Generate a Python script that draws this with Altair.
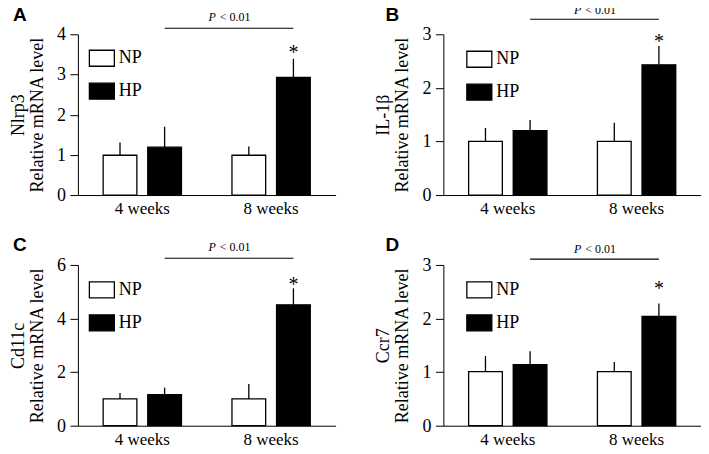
import altair as alt
import pandas as pd

# ---------------- data ----------------
weeks = ["4 weeks", "8 weeks"]
groups = ["NP", "HP"]
letters = ["A", "B", "C", "D"]
genes = ["Nlrp3", "IL-1β", "Cd11c", "Ccr7"]
y_max = [4, 3, 6, 3]
y_ticks = [[0, 1, 2, 3, 4], [0, 1, 2, 3], [0, 2, 4, 6], [0, 1, 2, 3]]

# order inside each list: 4w NP, 4w HP, 8w NP, 8w HP
means = [
    [0.99, 1.19, 0.99, 2.93],
    [1.00, 1.20, 1.00, 2.43],
    [1.00, 1.16, 1.00, 4.51],
    [1.01, 1.14, 1.01, 2.04],
]
upper = [
    [1.31, 1.70, 1.21, 3.39],
    [1.25, 1.40, 1.35, 2.78],
    [1.22, 1.42, 1.56, 5.13],
    [1.30, 1.39, 1.19, 2.28],
]
star_y = [3.61, 2.91, 5.38, 2.60]
p_line_y = [4.15, 3.28, 6.25, 3.11]
p_label = "P"
p_rest = "< 0.01"

SERIF = "Liberation Serif"
SANS = "Liberation Sans"

legend_xy = [(15, 15), (27, 16), (15, 16), (27, 16)]
letter_dx = [-65, -58, -65, -58]
letter_dy = [-13, -13, -14, -14]
p_dy = [-7, -5, -7, -6]

W, H = 258, 161


def panel(i):
    df = pd.DataFrame({
        "week": [w for w in weeks for _ in groups],
        "group": [g for _ in weeks for g in groups],
        "mean": means[i],
        "upper": upper[i],
    })
    star_df = pd.DataFrame({"week": [weeks[1]], "group": ["HP"], "v": [star_y[i]]})
    line_df = pd.DataFrame({"week": weeks, "group": ["HP", "HP"], "v": [p_line_y[i]] * 2})
    txt_df = pd.DataFrame({"week": [weeks[0]], "group": ["HP"], "v": [p_line_y[i]]})
    let_df = pd.DataFrame({"t": [letters[i]]})
    ytick_df = pd.DataFrame({"v": y_ticks[i], "lab": [str(t) for t in y_ticks[i]]})
    xlab_df = pd.DataFrame({"week": weeks})

    xscale = alt.Scale(domain=weeks, paddingInner=0.392, paddingOuter=0.196)
    oscale = alt.Scale(domain=groups, paddingInner=0.244)
    yscale = alt.Scale(domain=[0, y_max[i]], nice=False)
    ytitle = [genes[i], "Relative mRNA level"]
    xaxis = alt.Axis(labels=False)
    yaxis = alt.Axis(values=y_ticks[i], labels=False)

    def X():
        return alt.X("week:N", scale=xscale, title=None, axis=xaxis)

    def XO():
        return alt.XOffset("group:N", scale=oscale)

    def Y(f):
        return alt.Y(f + ":Q", scale=yscale, title=ytitle, axis=yaxis)

    lx, ly = legend_xy[i]
    bars = alt.Chart(df).mark_bar(stroke="black", strokeWidth=1.3).encode(
        x=X(), xOffset=XO(), y=Y("mean"),
        fill=alt.Fill("group:N", scale=alt.Scale(domain=groups, range=["white", "black"]),
                      legend=alt.Legend(title=None, orient="none", legendX=lx, legendY=ly)),
    )
    err = alt.Chart(df).mark_rule(color="black", strokeWidth=1.3).encode(
        x=X(), xOffset=XO(), y=Y("mean"), y2="upper:Q")
    star = alt.Chart(star_df).mark_text(text="*", font=SERIF, fontSize=20,
                                        baseline="middle", dy=3, color="black").encode(
        x=X(), xOffset=XO(), y=Y("v"))
    pline = alt.Chart(line_df).mark_line(color="black", strokeWidth=1.2).encode(
        x=X(), xOffset=XO(), y=Y("v"))
    pt1 = alt.Chart(txt_df).mark_text(text=p_label, font=SERIF, fontSize=12, fontStyle="italic",
                                      align="left", baseline="alphabetic", dx=44, dy=p_dy[i],
                                      color="black").encode(x=X(), xOffset=XO(), y=Y("v"))
    pt2 = alt.Chart(txt_df).mark_text(text=p_rest, font=SERIF, fontSize=12,
                                      align="right", baseline="alphabetic", dx=86, dy=p_dy[i],
                                      color="black").encode(x=X(), xOffset=XO(), y=Y("v"))
    letter = alt.Chart(let_df).mark_text(font=SANS, fontSize=19, fontWeight="bold",
                                         align="left", baseline="alphabetic",
                                         color="black").encode(
        text="t:N", x=alt.value(letter_dx[i]), y=alt.value(letter_dy[i]))
    ylabs = alt.Chart(ytick_df).mark_text(font=SERIF, fontSize=18, fontWeight="normal",
                                          align="right", baseline="middle", dy=1,
                                          color="black").encode(
        text="lab:N", x=alt.value(-12), y=Y("v"))
    xlabs = alt.Chart(xlab_df).mark_text(font=SERIF, fontSize=17, fontWeight="normal",
                                         align="center", baseline="alphabetic",
                                         color="black").encode(
        text="week:N", x=X(), y=alt.value(H + 19))
    return alt.layer(err, bars, star, pline, pt1, pt2, letter, ylabs, xlabs).properties(
        width=W, height=H)


row1 = alt.hconcat(panel(0), panel(1), spacing=39).resolve_scale(fill="independent")
row2 = alt.hconcat(panel(2), panel(3), spacing=39).resolve_scale(fill="independent")
chart = alt.vconcat(row1, row2, spacing=19).resolve_scale(fill="independent").properties(
    padding={"top": -5, "left": 1, "right": 0, "bottom": -2}
).configure(
    background="white",
    font=SERIF,
    view=alt.ViewConfig(stroke=None),
    axis=alt.AxisConfig(
        grid=False, domainColor="black", tickColor="black", domainWidth=1, tickWidth=1,
        titleFont=SERIF, titleColor="black", titleFontWeight="normal",
    ),
    axisY=alt.AxisConfig(
        tickSize=8, titleFontSize=18, titleLineHeight=19, titlePadding=23,
    ),
    axisX=alt.AxisConfig(ticks=False),
    legend=alt.LegendConfig(
        symbolType="M-1.5,-0.96H1.5V0.96H-1.5Z", symbolSize=278,
        symbolStrokeColor="black", symbolStrokeWidth=1.3, labelFont=SERIF,
        labelFontSize=18, labelColor="black", labelOffset=8, rowPadding=11,
    ),
)

chart.save("out.html", embed_options={"renderer": "svg", "actions": False})
